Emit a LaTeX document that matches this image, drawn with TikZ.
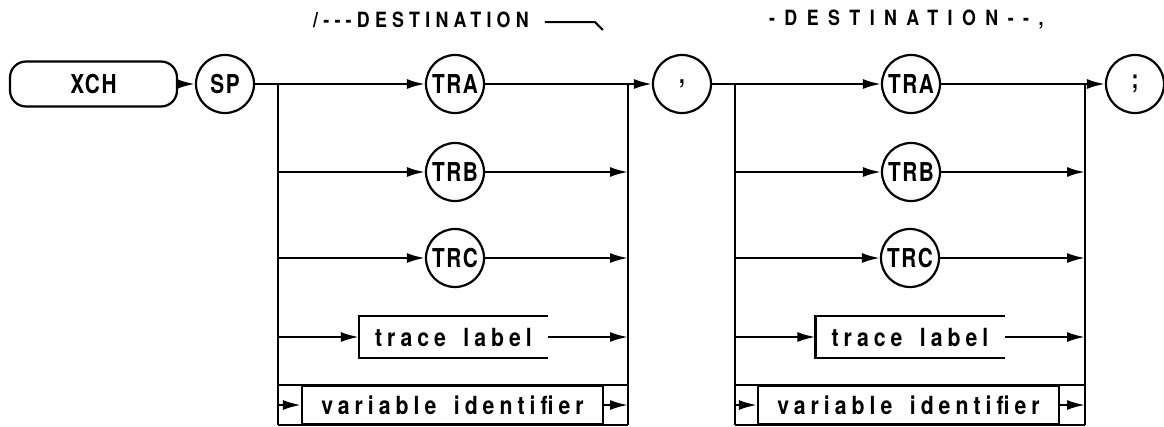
\documentclass[tikz,border=0pt]{standalone}
\usepackage{fontspec}
\usetikzlibrary{arrows.meta}
\newfontfamily\hpfont{TeX Gyre Heros}[FakeStretch=0.8,LetterSpace=6,Ligatures=TeXOff]
\newfontfamily\hpspaced{TeX Gyre Heros}[FakeStretch=0.85,LetterSpace=20,WordSpace=1.6,Ligatures=TeXOff]
\newfontfamily\hptop{TeX Gyre Heros}[FakeStretch=0.85,LetterSpace=25,Ligatures=TeXOff]
\newfontfamily\hpwide{TeX Gyre Heros}[FakeStretch=0.85,LetterSpace=45,Ligatures=TeXOff]

\tikzset{
  arr/.style={-{Latex[length=18pt,width=10pt]}},
  kw/.style={draw,circle,minimum size=58pt,inner sep=0pt,
    font=\hpfont\bfseries\fontsize{26}{28}\selectfont},
  cmdbox/.style={draw,rounded corners=16pt,minimum width=167pt,minimum height=45pt,
    inner sep=0pt,font=\hpfont\bfseries\fontsize{26}{28}\selectfont},
  lblbox/.style={minimum width=187pt,minimum height=40pt,inner sep=0pt,
    font=\hpspaced\bfseries\fontsize{25}{27}\selectfont},
  varbox/.style={draw,minimum width=301pt,minimum height=38pt,inner sep=0pt,
    font=\hpspaced\bfseries\fontsize{25}{27}\selectfont},
  toplbl/.style={inner sep=0pt,anchor=west,font=\hptop\bfseries\fontsize{21}{23}\selectfont},
  wide/.style={font=\hpwide\bfseries\fontsize{21}{23}\selectfont}
}

\begin{document}
\begin{tikzpicture}[x=1pt,y=-1pt,line width=2.2pt]
  \useasboundingbox (0,0) rectangle (1164,426);

  % keyword and first destination
  \node[cmdbox] (xch) at (93.5,84) {XCH};
  \node[kw] (sp) at (225,84) {SP};
  \node[kw] (tra1) at (455,84) {TRA};
  \node[kw] (trb1) at (455,172) {TRB};
  \node[kw] (trc1) at (455,258) {TRC};
  \node[lblbox] (tl1) at (453.5,337) {trace label};
  \node[varbox] (vi1) at (452.5,405) {variable identifier};
  \coordinate (b1l) at (278,84);
  \coordinate (b1r) at (628,84);

  % second destination
  \node[kw] (comma) at (682,84) {,};
  \node[kw] (tra2) at (911,84) {TRA};
  \node[kw] (trb2) at (911,172) {TRB};
  \node[kw] (trc2) at (910,258) {TRC};
  \node[lblbox] (tl2) at (910,337) {trace label};
  \node[varbox] (vi2) at (908.5,405) {variable identifier};
  \node[kw] (semi) at (1135,84) {;};
  \coordinate (b2l) at (735,84);
  \coordinate (b2r) at (1085,84);

  \node[toplbl] (dest1) at (312,20) {/---DESTINATION};
  \node[toplbl,wide] (dest2) at (768,20) {-DESTINATION--,};
  \draw[line width=2pt] (dest1.east) ++(15,2) -- ++(50,0) -- ++(8,8);

  \draw[arr] (xch) -- (sp);
  \draw[arr] (sp) -- (tra1);
  \draw[arr] (tra1) -- (comma);
  \draw[arr] (comma) -- (tra2);
  \draw[arr] (tra2) -- (semi);

  % trace label boxes are open on the right
  \foreach \t in {tl1,tl2}
    \draw (\t.north east) -- (\t.north west) -- (\t.south west) -- (\t.south east);

  \foreach \b/\v in {b1/vi1,b2/vi2} {
    \draw (\b l) -- (\b l |- \v.south);
    \draw (\b r) -- (\b r |- \v.south);
    \draw (\b l |- \v.north) -- (\b r |- \v.north);
    \draw (\b l |- \v.south) -- (\b r |- \v.south);
  }

  \foreach \b/\n in {b1/trb1,b1/trc1,b1/tl1,b1/vi1,b2/trb2,b2/trc2,b2/tl2,b2/vi2} {
    \draw[arr] (\b l |- \n) -- (\n);
    \draw[arr] (\n) -- (\b r |- \n);
  }
\end{tikzpicture}
\end{document}
